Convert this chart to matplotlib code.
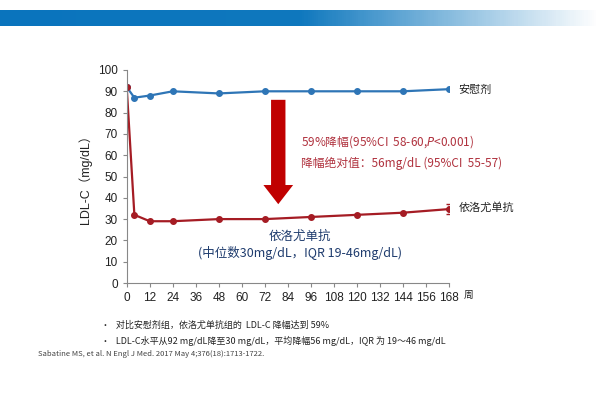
import numpy as np
import matplotlib.pyplot as plt
from matplotlib.colors import LinearSegmentedColormap

plt.rcParams['font.family'] = ['Noto Sans CJK SC', 'DejaVu Sans']

# datos
semanas = [0, 4, 12, 24, 48, 72, 96, 120, 144, 168]
placebo = [92, 87, 88, 90, 89, 90, 90, 90, 90, 91]
evolocumab = [92, 32, 29, 29, 30, 30, 31, 32, 33, 34.7]
err_final = 2.4
xticks = list(range(0, 169, 12))
yticks = list(range(0, 101, 10))

azul = '#2e75b6'
rojo = '#a51c24'
arial = ['Liberation Sans', 'Noto Sans CJK SC']

fig = plt.figure(figsize=(6, 3.96), dpi=100)

# banda superior con degradado
banda = fig.add_axes([0, 1 - 26/396, 1, 16/396])
cmap = LinearSegmentedColormap.from_list('b', [(0, '#0a74bd'), (0.5, '#0f78be'), (1, '#ffffff')])
banda.imshow(np.linspace(0, 1, 300).reshape(1, -1), aspect='auto', cmap=cmap)
banda.axis('off')

ax = fig.add_axes([126.7/600, 1 - 283/396, 322.3/600, 213/396])
ax.plot(semanas, placebo, '-o', color=azul, lw=1.6, ms=4)
ax.plot(semanas, evolocumab, '-o', color=rojo, lw=1.6, ms=4)
ax.errorbar(semanas[-1], evolocumab[-1], yerr=err_final, color=rojo, capsize=2, lw=1)

ax.set_xlim(0, 168)
ax.set_ylim(0, 100)
ax.set_xticks(xticks)
ax.set_yticks(yticks)
ax.tick_params(labelsize=8.5, color='#888888', length=3, labelcolor='#222222',
               labelfontfamily='Liberation Sans')
for s in ['top', 'right']:
    ax.spines[s].set_visible(False)
for s in ['left', 'bottom']:
    ax.spines[s].set_color('#888888')
ax.set_ylabel('LDL-C（mg/dL）', fontsize=9, color='#222222', labelpad=4, family=arial)

# flecha roja
ax.arrow(79, 86, 0, -49, width=7.5, head_width=15.5, head_length=9,
         length_includes_head=True, color='#c00000', ec='none')

ax.text(91, 66.2, '59%降幅(95%CI  58-60,$P$<0.001)', color='#b0323e', fontsize=8.5, va='center')
ax.text(91, 56.3, '降幅绝对值：56mg/dL (95%CI  55-57)', color='#b0323e', fontsize=8.5, va='center')
ax.text(90.5, 22, '依洛尤单抗', color='#1f3c6e', fontsize=9, ha='center', va='center')
ax.text(90.5, 14, '(中位数30mg/dL，IQR 19-46mg/dL)', color='#1f3c6e', fontsize=9, ha='center', va='center')

ax.text(173, placebo[-1] - 0.5, '安慰剂', fontsize=8, va='center', color='#222222')
ax.text(173, evolocumab[-1] + 1, '依洛尤单抗', fontsize=8, va='center', color='#222222')
fig.text(464/600, 1 - 295/396, '周', fontsize=7, va='center', color='#222222')

fig.text(101/600, 1 - 325/396, '•   对比安慰剂组，依洛尤单抗组的  LDL-C 降幅达到 59%', fontsize=6.5, va='center', color='#222222')
fig.text(101/600, 1 - 341/396, '•   LDL-C水平从92 mg/dL降至30 mg/dL，平均降幅56 mg/dL，IQR 为 19～46 mg/dL', fontsize=6.5, va='center', color='#222222')
fig.text(38/600, 1 - 354/396, 'Sabatine MS, et al. N Engl J Med. 2017 May 4;376(18):1713-1722.', fontsize=5.5, va='center', color='#444444')

fig.savefig('out.png', dpi=100)
